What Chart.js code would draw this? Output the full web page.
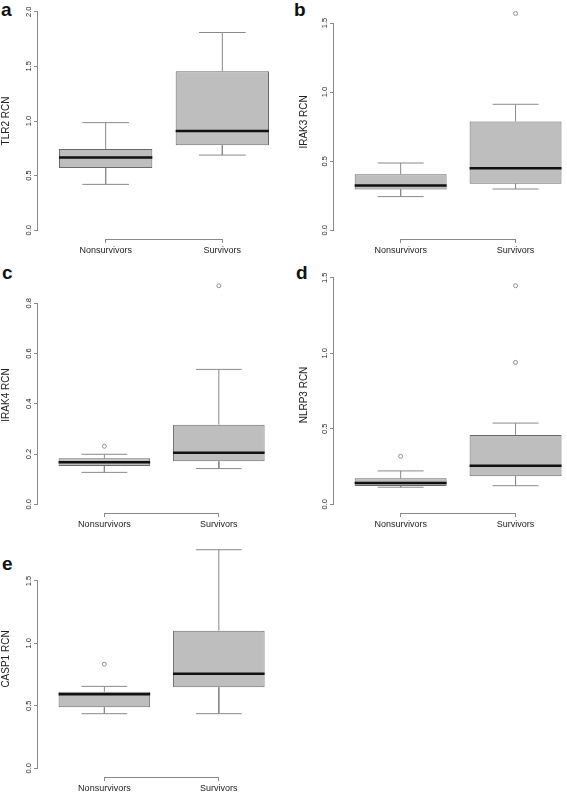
<!DOCTYPE html>
<html lang="en">
<head>
  <meta charset="UTF-8">
  <title>RCN boxplots</title>
  <script src="https://cdn.jsdelivr.net/npm/chart.js"></script>
  <style>
    * {
      box-sizing: border-box;
      margin: 0;
      padding: 0;
    }

    body {
      background-color: white;
      width: 567px;
      height: 793px;
      overflow: hidden;
      position: relative;
      font-family: 'Liberation Sans', Arial, sans-serif;
    }

    canvas {
      position: absolute;
    }

    .letter {
      position: absolute;
      font-size: 19px;
      line-height: 19px;
      font-weight: bold;
      color: #111;
    }
  </style>
</head>
<body>

<span class="letter" style="left: 1px; top: 0px;">a</span>
<span class="letter" style="left: 294px; top: 0px;">b</span>
<span class="letter" style="left: 2px; top: 263px;">c</span>
<span class="letter" style="left: 296px; top: 263px;">d</span>
<span class="letter" style="left: 2px; top: 554px;">e</span>

<canvas id="chartA" width="290" height="255" style="left: 0px; top: 0px;"></canvas>
<canvas id="chartB" width="289" height="255" style="left: 298px; top: 0px;"></canvas>
<canvas id="chartC" width="290" height="267" style="left: 0px; top: 262px;"></canvas>
<canvas id="chartD" width="289" height="267" style="left: 298px; top: 262px;"></canvas>
<canvas id="chartE" width="290" height="267" style="left: 0px; top: 526px;"></canvas>

<script>
  const groups = ['Nonsurvivors', 'Survivors'];

  // per group: [lower whisker, Q1, median, Q3, upper whisker]
  const tlr2Stats = [[0.42, 0.57, 0.667, 0.743, 0.985], [0.688, 0.777, 0.908, 1.456, 1.81]];
  const tlr2Outliers = [[], []];
  const tlr2Ticks = ['0.0', '0.5', '1.0', '1.5', '2.0'];
  const tlr2Top = 2.0;

  const irak3Stats = [[0.244, 0.296, 0.325, 0.406, 0.487], [0.299, 0.337, 0.449, 0.788, 0.912]];
  const irak3Outliers = [[], [1.569]];
  const irak3Ticks = ['0.0', '0.5', '1.0', '1.5'];
  const irak3Top = 1.569;

  const irak4Stats = [[0.127, 0.152, 0.167, 0.183, 0.199], [0.142, 0.171, 0.205, 0.317, 0.537]];
  const irak4Outliers = [[0.231], [0.870]];
  const irak4Ticks = ['0.0', '0.2', '0.4', '0.6', '0.8'];
  const irak4Top = 0.870;

  const nlrp3Stats = [[0.113, 0.121, 0.141, 0.172, 0.221], [0.123, 0.185, 0.256, 0.459, 0.538]];
  const nlrp3Outliers = [[0.318], [0.940, 1.448]];
  const nlrp3Ticks = ['0.0', '0.5', '1.0', '1.5'];
  const nlrp3Top = 1.448;

  const casp1Stats = [[0.437, 0.488, 0.592, 0.613, 0.656], [0.437, 0.648, 0.757, 1.102, 1.75]];
  const casp1Outliers = [[0.833], []];
  const casp1Ticks = ['0.0', '0.5', '1.0', '1.5'];
  const casp1Top = 1.75;

  const axisColor = '#8a8a8a';
  const textColor = '#222';
  const fontFamily = "'Liberation Sans', Arial, sans-serif";

  function makeChart(canvasId, title, stats, outliers, tickLabels, top, axisWidth, padTop) {
    const boxes = stats.map((s, i) => ({ x: i + 1, y: [s[1], s[3]] }));
    const whiskers = [];
    const medians = [];
    stats.forEach((s, i) => {
      const x = i + 1;
      whiskers.push(
        { x: x, y: s[3] }, { x: x, y: s[4] }, { x: x, y: null },
        { x: x - 0.2, y: s[4] }, { x: x + 0.2, y: s[4] }, { x: x, y: null },
        { x: x, y: s[1] }, { x: x, y: s[0] }, { x: x, y: null },
        { x: x - 0.2, y: s[0] }, { x: x + 0.2, y: s[0] }, { x: x, y: null }
      );
      medians.push({ x: x - 0.4, y: s[2] }, { x: x + 0.4, y: s[2] }, { x: x, y: null });
    });
    const points = [];
    outliers.forEach((arr, i) => arr.forEach(v => points.push({ x: i + 1, y: v })));

    const tickValues = tickLabels.map(Number);
    const ext = top * 0.04;

    // R style axes: line only between the outer ticks, rotated y labels
    const rAxes = {
      id: 'rAxes',
      afterDraw(chart) {
        const { ctx, chartArea } = chart;
        const xs = chart.scales.x;
        const ys = chart.scales.y;
        ctx.save();
        ctx.strokeStyle = axisColor;
        ctx.lineWidth = 1;
        const ax = Math.round(chartArea.left) - 0.5;
        ctx.beginPath();
        ctx.moveTo(ax, ys.getPixelForValue(tickValues[0]));
        ctx.lineTo(ax, ys.getPixelForValue(tickValues[tickValues.length - 1]));
        const by = Math.round(chartArea.bottom) + 0.5;
        ctx.moveTo(xs.getPixelForValue(1), by);
        ctx.lineTo(xs.getPixelForValue(groups.length), by);
        ctx.stroke();

        ctx.fillStyle = textColor;
        ctx.font = '7.5px ' + fontFamily;
        ctx.textAlign = 'center';
        ctx.textBaseline = 'middle';
        tickLabels.forEach((lab, i) => {
          ctx.save();
          ctx.translate(chartArea.left - 9.5, ys.getPixelForValue(tickValues[i]));
          ctx.rotate(-Math.PI / 2);
          ctx.fillText(lab, 0, 0);
          ctx.restore();
        });
        ctx.restore();
      }
    };

    return new Chart(document.getElementById(canvasId), {
      type: 'bar',
      data: {
        datasets: [
          {
            type: 'bar',
            data: boxes,
            backgroundColor: '#bebebe',
            borderColor: '#6a6a6a',
            borderWidth: 1,
            borderSkipped: false,
            barPercentage: 0.8,
            categoryPercentage: 1.0,
            order: 2
          },
          {
            type: 'line',
            data: whiskers,
            borderColor: axisColor,
            borderWidth: 1,
            pointRadius: 0,
            spanGaps: false,
            order: 3
          },
          {
            type: 'line',
            data: medians,
            borderColor: '#111',
            borderWidth: 2.5,
            pointRadius: 0,
            spanGaps: false,
            order: 1
          },
          {
            type: 'scatter',
            data: points,
            pointStyle: 'circle',
            pointRadius: 2,
            pointBorderWidth: 0.8,
            pointBorderColor: '#777',
            pointBackgroundColor: 'rgba(0,0,0,0)',
            order: 0
          }
        ]
      },
      options: {
        responsive: false,
        animation: false,
        layout: { padding: { top: padTop, left: 0, right: 0, bottom: 0 } },
        plugins: {
          legend: { display: false },
          tooltip: { enabled: false }
        },
        scales: {
          x: {
            type: 'linear',
            min: 0.42,
            max: groups.length + 0.58,
            offset: false,
            grid: { display: true, offset: false, drawOnChartArea: false, drawTicks: true, tickLength: 4, color: axisColor },
            border: { display: false },
            afterBuildTicks: s => { s.ticks = groups.map((g, i) => ({ value: i + 1 })); },
            afterFit: s => { s.height = 16; },
            ticks: {
              autoSkip: false,
              maxRotation: 0,
              padding: 2,
              color: textColor,
              font: { family: fontFamily, size: 9 },
              callback: (v, i) => groups[i]
            }
          },
          y: {
            type: 'linear',
            min: -ext,
            max: top + ext,
            grid: { display: true, drawOnChartArea: false, drawTicks: true, tickLength: 4, color: axisColor },
            border: { display: false },
            afterBuildTicks: s => { s.ticks = tickValues.map(v => ({ value: v })); },
            afterFit: s => { s.width = axisWidth; },
            ticks: { display: false },
            title: {
              display: true,
              text: title,
              color: textColor,
              padding: 0,
              font: { family: fontFamily, size: 10 }
            }
          }
        }
      },
      plugins: [rAxes]
    });
  }

  makeChart('chartA', 'TLR2 RCN', tlr2Stats, tlr2Outliers, tlr2Ticks, tlr2Top, 38, 3);
  makeChart('chartB', 'IRAK3 RCN', irak3Stats, irak3Outliers, irak3Ticks, irak3Top, 36, 3);
  makeChart('chartC', 'IRAK4 RCN', irak4Stats, irak4Outliers, irak4Ticks, irak4Top, 38, 15);
  makeChart('chartD', 'NLRP3 RCN', nlrp3Stats, nlrp3Outliers, nlrp3Ticks, nlrp3Top, 36, 15);
  makeChart('chartE', 'CASP1 RCN', casp1Stats, casp1Outliers, casp1Ticks, casp1Top, 38, 15);
</script>

</body>
</html>
